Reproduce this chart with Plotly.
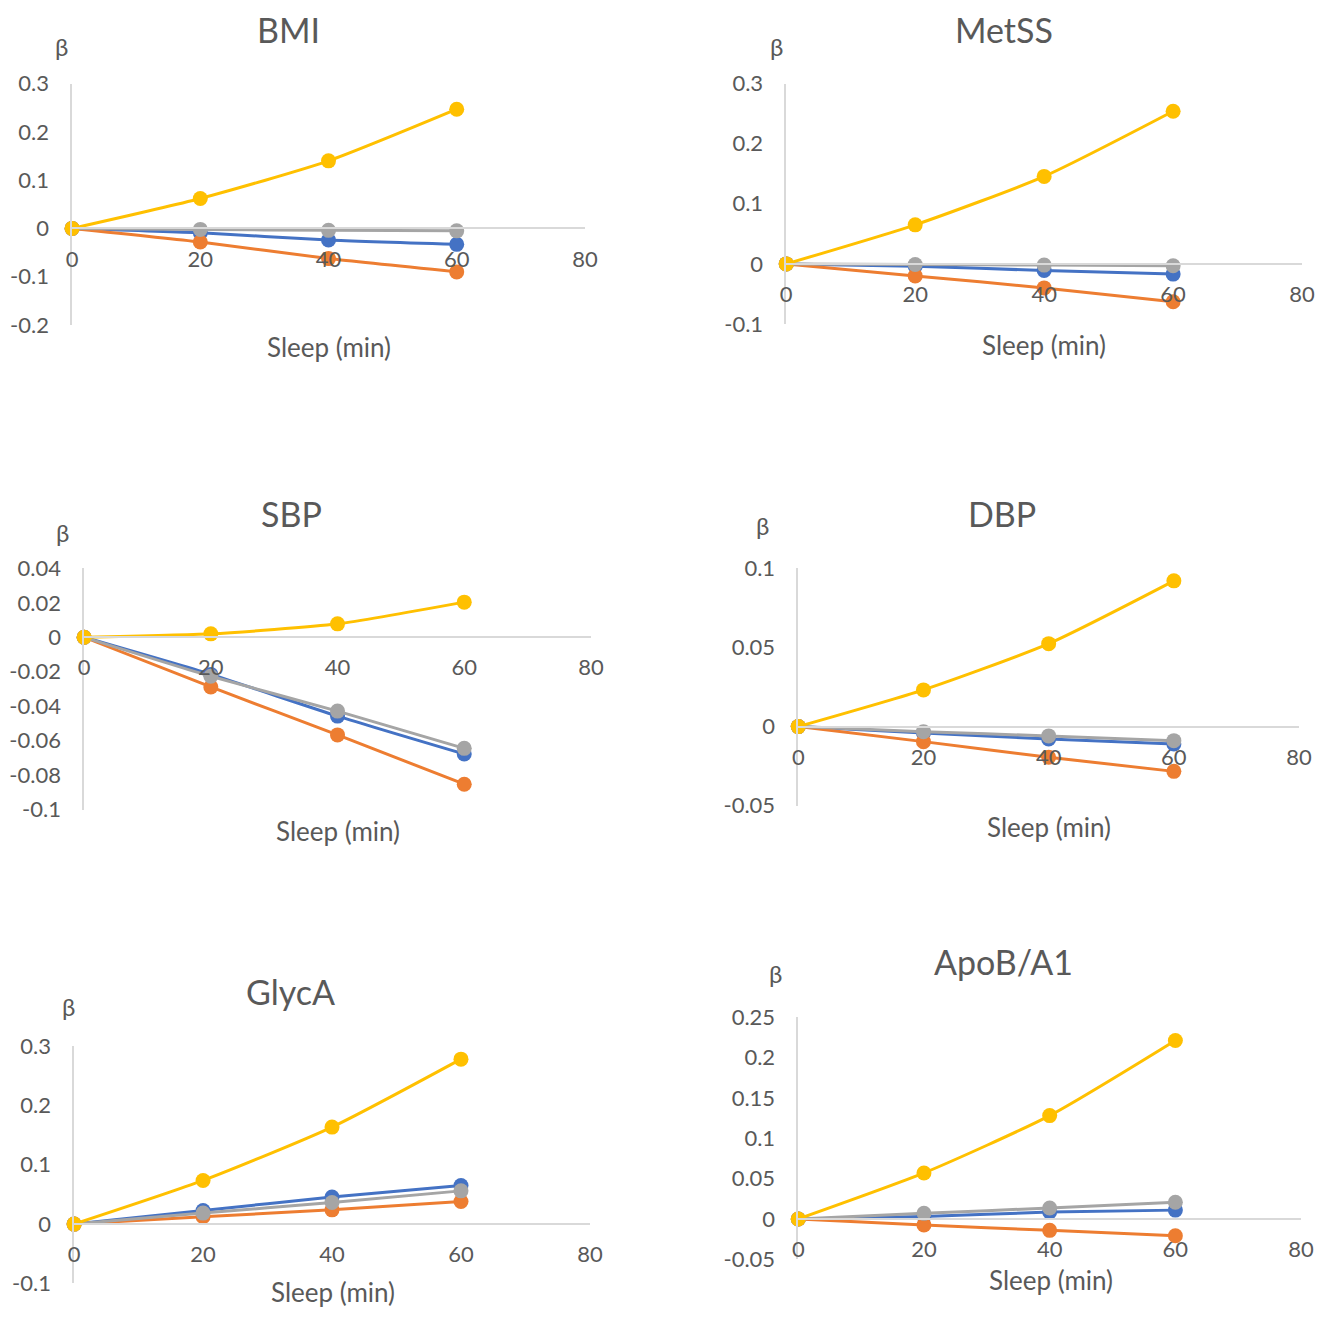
import plotly.graph_objects as go

# ---------------- data ----------------
sleep = [0, 20, 40, 60]
x_ticks = [0, 20, 40, 60, 80]

panels = ["BMI", "MetSS", "SBP", "DBP", "GlycA", "ApoB/A1"]

blue = {
    "BMI": [0, -0.009, -0.024, -0.033],
    "MetSS": [0, -0.004, -0.011, -0.017],
    "SBP": [0, -0.0215, -0.0457, -0.0677],
    "DBP": [0, -0.004, -0.0078, -0.011],
    "GlycA": [0, 0.023, 0.0455, 0.065],
    "ApoB/A1": [0, 0.003, 0.0087, 0.011],
}
orange = {
    "BMI": [0, -0.028, -0.0625, -0.090],
    "MetSS": [0, -0.020, -0.040, -0.063],
    "SBP": [0, -0.0288, -0.0566, -0.0852],
    "DBP": [0, -0.0095, -0.0194, -0.0283],
    "GlycA": [0, 0.0124, 0.024, 0.038],
    "ApoB/A1": [0, -0.0074, -0.014, -0.0207],
}
gray = {
    "BMI": [0, -0.002, -0.004, -0.005],
    "MetSS": [0, -0.001, -0.002, -0.003],
    "SBP": [0, -0.0226, -0.0428, -0.0644],
    "DBP": [0, -0.0032, -0.0059, -0.0089],
    "GlycA": [0, 0.0185, 0.0365, 0.056],
    "ApoB/A1": [0, 0.007, 0.0136, 0.0207],
}
yellow = {
    "BMI": [0, 0.062, 0.140, 0.247],
    "MetSS": [0, 0.065, 0.1456, 0.254],
    "SBP": [0, 0.002, 0.0078, 0.0204],
    "DBP": [0, 0.0232, 0.0524, 0.0921],
    "GlycA": [0, 0.0736, 0.1635, 0.278],
    "ApoB/A1": [0, 0.057, 0.128, 0.221],
}

y_tick_vals = {
    "BMI": [-0.2, -0.1, 0, 0.1, 0.2, 0.3],
    "MetSS": [-0.1, 0, 0.1, 0.2, 0.3],
    "SBP": [-0.1, -0.08, -0.06, -0.04, -0.02, 0, 0.02, 0.04],
    "DBP": [-0.05, 0, 0.05, 0.1],
    "GlycA": [-0.1, 0, 0.1, 0.2, 0.3],
    "ApoB/A1": [-0.05, 0, 0.05, 0.1, 0.15, 0.2, 0.25],
}
y_tick_text = {
    "BMI": ["-0.2", "-0.1", "0", "0.1", "0.2", "0.3"],
    "MetSS": ["-0.1", "0", "0.1", "0.2", "0.3"],
    "SBP": ["-0.1", "-0.08", "-0.06", "-0.04", "-0.02", "0", "0.02", "0.04"],
    "DBP": ["-0.05", "0", "0.05", "0.1"],
    "GlycA": ["-0.1", "0", "0.1", "0.2", "0.3"],
    "ApoB/A1": ["-0.05", "0", "0.05", "0.1", "0.15", "0.2", "0.25"],
}

x_title = "Sleep (min)"
y_label = "β"

# ---------------- layout (pixel geometry of the target picture) ----------------
W = H = 1317
# left px, right px, top px (y max), bottom px (y min)
geom = {
    "BMI": (73, 585, 84, 325),
    "MetSS": (786, 1301, 84, 324),
    "SBP": (85, 591, 568, 809),
    "DBP": (798, 1298, 568, 805),
    "GlycA": (75, 590, 1045, 1282),
    "ApoB/A1": (798, 1300, 1016, 1258),
}
title_pos = {
    "BMI": (289, 30), "MetSS": (1003, 30), "SBP": (292, 513),
    "DBP": (1001, 513), "GlycA": (291, 991), "ApoB/A1": (1003, 961),
}
xtitle_pos = {
    "BMI": (329, 347), "MetSS": (1043, 345), "SBP": (338, 830),
    "DBP": (1048, 826), "GlycA": (333, 1303), "ApoB/A1": (1050, 1279),
}
beta_pos = {
    "BMI": (62, 47), "MetSS": (776, 47), "SBP": (63, 532),
    "DBP": (762, 525), "GlycA": (69, 1005), "ApoB/A1": (775, 973),
}

# mapping between picture pixels and figure pixels (measured from a frame check)
AX, BX = 7.0, 0.984
AY, BY = 14.5, 0.978

def fx(px):
    return min(max((px - AX) / BX / W, 0.0), 1.0)

def fy(py):
    return min(max(1 - (py - AY) / BY / H, 0.0), 1.0)

def fy_text(py, half):
    # keep text fully inside the figure
    v = 1 - (py - AY) / BY / H
    return min(max(v, half / H), 1 - half / H)

series = [
    (blue, "#4472C4"),
    (orange, "#ED7D31"),
    (gray, "#A5A5A5"),
    (yellow, "#FFC000"),
]

FONT = "Lato, 'Open Sans', sans-serif"
TXT = "#595959"
AXC = "#D9D9D9"

fig = go.Figure()
layout = dict(
    width=W, height=H, margin=dict(l=0, r=0, t=0, b=0, pad=0),
    paper_bgcolor="white", plot_bgcolor="white", showlegend=False,
    font=dict(family=FONT, color=TXT, size=22),
)
annotations = []

for i, name in enumerate(panels):
    k = "" if i == 0 else str(i + 1)
    xa, ya = "x" + k, "y" + k
    L, R, T, B = geom[name]
    yv = y_tick_vals[name]
    ymin, ymax = min(yv), max(yv)
    y0, y1 = fy(B), fy(T)
    zero_pos = y0 + (0 - ymin) / (ymax - ymin) * (y1 - y0)

    for data, col in series:
        fig.add_trace(go.Scatter(
            x=sleep, y=data[name], xaxis=xa, yaxis=ya, mode="lines+markers",
            line=dict(color=col, width=3, shape="spline", smoothing=0.6),
            marker=dict(color=col, size=15), cliponaxis=False,
            hoverinfo="x+y",
        ))

    layout["xaxis" + k] = dict(
        domain=[fx(L), fx(R)], range=[0, 80], anchor="free", position=zero_pos,
        tickvals=x_ticks, ticktext=[str(v) for v in x_ticks],
        showline=True, linecolor=AXC, linewidth=1.5, showgrid=False,
        zeroline=False, ticks="", tickfont=dict(size=22, color=TXT),
        ticklabelstandoff=11, fixedrange=True,
    )
    layout["yaxis" + k] = dict(
        domain=[y0, y1], range=[ymin, ymax], anchor=xa,
        tickvals=yv, ticktext=y_tick_text[name],
        showline=True, linecolor=AXC, linewidth=1.5, showgrid=False,
        zeroline=False, ticks="", tickfont=dict(size=22, color=TXT),
        ticklabelstandoff=17, fixedrange=True,
    )

    tx, ty = title_pos[name]
    annotations.append(dict(x=fx(tx), y=fy_text(ty, 12), xref="paper", yref="paper",
                            text=name, showarrow=False, xanchor="center", yanchor="middle",
                            font=dict(size=34, color=TXT, family=FONT)))
    sx, sy = xtitle_pos[name]
    annotations.append(dict(x=fx(sx), y=fy_text(sy, 12), xref="paper", yref="paper",
                            text=x_title, showarrow=False, xanchor="center", yanchor="middle",
                            font=dict(size=26, color=TXT, family=FONT)))
    bx, by = beta_pos[name]
    annotations.append(dict(x=fx(bx), y=fy_text(by, 12), xref="paper", yref="paper",
                            text=y_label, showarrow=False, xanchor="center", yanchor="middle",
                            font=dict(size=24, color=TXT, family=FONT)))

layout["annotations"] = annotations
fig.update_layout(**layout)

post = (
    "document.documentElement.style.margin='0';"
    "document.body.style.margin='0';"
    "document.body.style.padding='0';"
    "document.body.style.overflow='hidden';"
)
fig.write_html("out.html", config={"displayModeBar": False}, post_script=post)
